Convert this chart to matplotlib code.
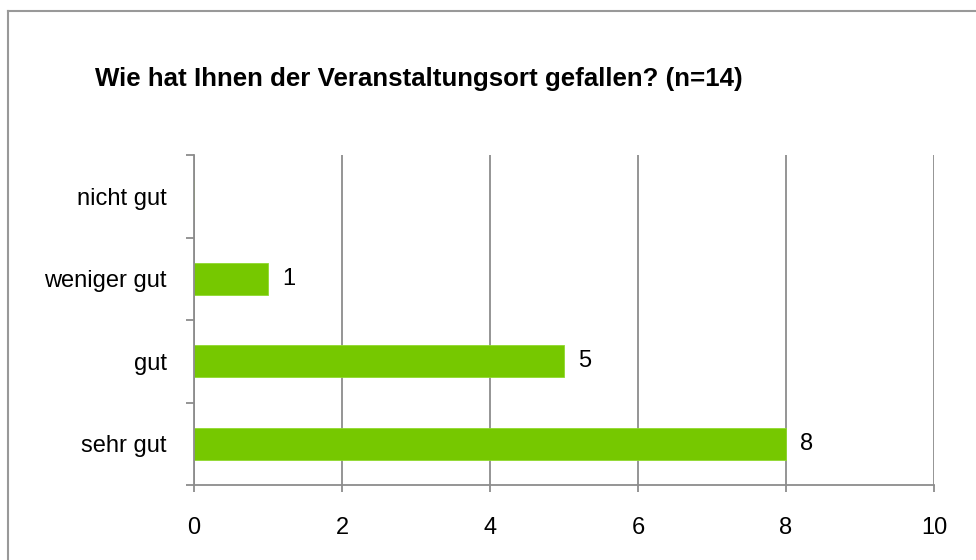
import matplotlib
matplotlib.use("Agg")
import matplotlib.pyplot as plt
import numpy as np

# data
kategorien = ["sehr gut", "gut", "weniger gut", "nicht gut"]
anzahl = [8, 5, 1, 0]
x_ticks = [0, 2, 4, 6, 8, 10]
titel = "Wie hat Ihnen der Veranstaltungsort gefallen? (n=14)"

grau = "#8c8c8c"
gruen = "#76c800"

fig = plt.figure(figsize=(9.76, 5.6), dpi=100)
ax = fig.add_axes([194/976, 1-485/560, (934-194)/976, (485-155)/560])

y = np.arange(len(kategorien))
bars = ax.barh(y, anzahl, height=0.39, color=gruen, edgecolor="#8fd92e", linewidth=0.6, zorder=3)

for b, v in zip(bars, anzahl):
    if v > 0:
        ax.annotate(str(v), xy=(b.get_width(), b.get_y() + b.get_height()/2),
                    xytext=(10, 0), textcoords="offset points", va="center", ha="left",
                    fontsize=17, family="Liberation Sans")

ax.set_xlim(0, 10)
ax.set_ylim(-0.5, len(kategorien) - 0.5)
ax.set_xticks(x_ticks)
ax.set_xticklabels([str(t) for t in x_ticks], fontsize=17, family="Liberation Sans")
ax.set_yticks(y)
ax.set_yticklabels(kategorien, fontsize=17, family="Liberation Sans")
ax.set_yticks(np.arange(len(kategorien) + 1) - 0.5, minor=True)

ax.tick_params(axis="y", which="major", length=0, pad=19.5)
ax.tick_params(axis="y", which="minor", length=6, width=1.3, color=grau)
ax.tick_params(axis="x", which="major", length=5, width=1.3, color=grau, pad=18)

ax.grid(axis="x", color=grau, linewidth=1.3, zorder=0)
ax.set_axisbelow(True)
for s in ["top", "right"]:
    ax.spines[s].set_visible(False)
for s in ["left", "bottom"]:
    ax.spines[s].set_color(grau)
    ax.spines[s].set_linewidth(1.3)
    ax.spines[s].set_zorder(4)

fig.text(95/976, 1-79/560, titel, ha="left", va="center", fontsize=18.6,
         fontweight="bold", family=["Liberation Sans Narrow", "Liberation Sans"])

# chart frame (only top and left visible in the crop)
fig.add_artist(plt.Line2D([8/976, 1], [1-11/560, 1-11/560], transform=fig.transFigure, color="#999999", linewidth=1.5))
fig.add_artist(plt.Line2D([8/976, 8/976], [0, 1-11/560], transform=fig.transFigure, color="#999999", linewidth=1.5))

fig.savefig("out.png", dpi=100)
